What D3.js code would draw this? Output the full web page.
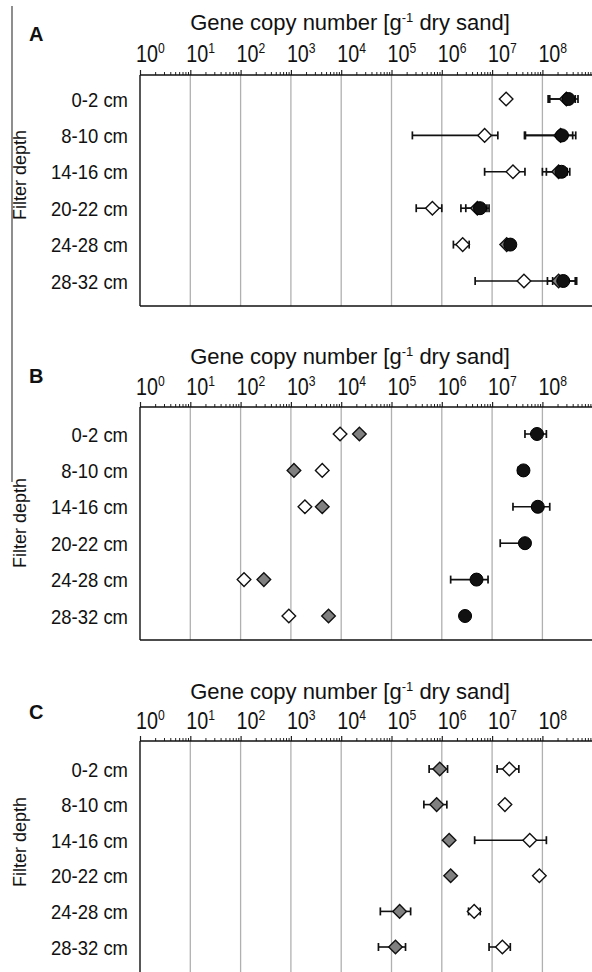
<!DOCTYPE html>
<html>
<head>
<meta charset="utf-8">
<script src="https://cdn.jsdelivr.net/npm/d3@7"></script>
<style>
  html, body { margin: 0; padding: 0; background: #fff; }
  svg { display: block; }
  text { font-family: "Liberation Sans", Arial, Helvetica, sans-serif; fill: #111; }
</style>
</head>
<body>
<svg id="chart" width="592" height="972"></svg>
<script>
// ---------------- DATA ----------------
const depths = ["0-2 cm", "8-10 cm", "14-16 cm", "20-22 cm", "24-28 cm", "28-32 cm"];
const tickExponents = [0, 1, 2, 3, 4, 5, 6, 7, 8];
const axisTitle = "Gene copy number [g";
const axisTitleSup = "-1";
const axisTitleEnd = " dry sand]";
const yTitle = "Filter depth";
const panelLetters = ["A", "B", "C"];

// Panel A
const aWhite   = [1.9e7, 7.1e6, 2.6e7, 6.5e5, 2.6e6, 4.3e7];
const aWhiteLo = [null, 2.6e5, 7.1e6, 3.1e5, 1.7e6, 4.6e6];
const aWhiteHi = [null, 1.3e7, 4.5e7, 1.0e6, 3.5e6, 2.0e8];
const aGray    = [3.0e8, 2.3e8, 2.1e8, 5.1e6, 1.95e7, 2.1e8];
const aGrayLo  = [1.3e8, 4.4e7, 1.0e8, 2.4e6, null, 1.26e8];
const aGrayHi  = [4.5e8, 4.0e8, 3.1e8, 7.9e6, null, 4.5e8];
const aBlack   = [3.3e8, 2.45e8, 2.4e8, 5.75e6, 2.3e7, 2.6e8];
const aBlackLo = [1.4e8, 4.6e7, 1.2e8, 3.0e6, null, 1.6e8];
const aBlackHi = [5.1e8, 4.6e8, 3.5e8, 8.7e6, null, 4.8e8];

// Panel B
const bWhite   = [9.5e3, 4.2e3, 1.9e3, null, 117, 910];
const bGray    = [2.3e4, 1.15e3, 4.2e3, null, 290, 5.6e3];
const bBlack   = [7.8e7, 4.2e7, 8.1e7, 4.5e7, 4.9e6, 2.9e6];
const bBlackLo = [4.5e7, 3.3e7, 2.6e7, 1.45e7, 1.5e6, 2.6e6];
const bBlackHi = [1.2e8, 4.6e7, 1.4e8, 4.5e7, 8.3e6, 3.2e6];

// Panel C
const cGray    = [9.1e5, 7.9e5, 1.4e6, 1.5e6, 1.45e5, 1.2e5];
const cGrayLo  = [5.6e5, 4.4e5, null, null, 6.0e4, 5.5e4];
const cGrayHi  = [1.3e6, 1.26e6, null, null, 2.4e5, 1.9e5];
const cWhite   = [2.2e7, 1.8e7, 5.6e7, 8.7e7, 4.4e6, 1.6e7];
const cWhiteLo = [1.26e7, null, 4.5e6, null, 3.4e6, 8.7e6];
const cWhiteHi = [3.4e7, null, 1.2e8, null, 5.8e6, 2.3e7];

// ---------------- STYLES / LAYOUT ----------------
const WHITE = "#ffffff", GRAY = "#808080", BLACK = "#111111";
const panels = [
  { letter: panelLetters[0], top: 75, bottom: 306, titleY: 30, tickY: 62, letterY: 41, fdY: 175, rowTop: 99, rowStep: 36.4,
    series: [
      { shape: "diamond", fill: WHITE, v: aWhite, lo: aWhiteLo, hi: aWhiteHi },
      { shape: "diamond", fill: GRAY,  v: aGray,  lo: aGrayLo,  hi: aGrayHi },
      { shape: "circle",  fill: BLACK, v: aBlack, lo: aBlackLo, hi: aBlackHi }
    ] },
  { letter: panelLetters[1], top: 407, bottom: 640, titleY: 364, tickY: 395, letterY: 383, fdY: 523, rowTop: 434, rowStep: 36.4,
    series: [
      { shape: "diamond", fill: WHITE, v: bWhite },
      { shape: "diamond", fill: GRAY,  v: bGray },
      { shape: "circle",  fill: BLACK, v: bBlack, lo: bBlackLo, hi: bBlackHi }
    ] },
  { letter: panelLetters[2], top: 741, bottom: 990, titleY: 699, tickY: 729, letterY: 719, fdY: 842, rowTop: 769, rowStep: 35.6,
    series: [
      { shape: "diamond", fill: GRAY,  v: cGray,  lo: cGrayLo,  hi: cGrayHi },
      { shape: "diamond", fill: WHITE, v: cWhite, lo: cWhiteLo, hi: cWhiteHi }
    ] }
];

const svg = d3.select("#chart");
svg.append("rect").attr("width", 592).attr("height", 972).attr("fill", "#fff");

const x = d3.scaleLog().domain([1, 1e9]).range([140, 592.7]);

// left vertical line
svg.append("line").attr("x1", 12).attr("x2", 12).attr("y1", 6).attr("y2", 482)
  .attr("stroke", "#444").attr("stroke-width", 1.2);

function compressedText(parent, px, py, sx, str, opts) {
  const g = parent.append("g").attr("transform", `translate(${px},${py}) scale(${sx},1)`);
  const t = g.append("text").attr("x", 0).attr("y", 0)
    .attr("font-size", opts.size).attr("text-anchor", opts.anchor || "start");
  if (opts.weight) t.attr("font-weight", opts.weight);
  t.text(str);
  return t;
}

const diamondPath = "M0,-6.8L6.8,0L0,6.8L-6.8,0Z";

panels.forEach(p => {
  const g = svg.append("g");
  const y = d3.scalePoint().domain(depths)
    .range([p.rowTop, p.rowTop + p.rowStep * (depths.length - 1)]);

  // title
  const t = g.append("text").attr("x", 350).attr("y", p.titleY)
    .attr("text-anchor", "middle").attr("font-size", 22);
  t.append("tspan").text(axisTitle);
  t.append("tspan").attr("font-size", 13).attr("dy", -8).text(axisTitleSup);
  t.append("tspan").attr("dy", 8).text(axisTitleEnd);

  // letter
  g.append("text").attr("x", 29).attr("y", p.letterY).attr("font-size", 20)
    .attr("font-weight", "bold").text(p.letter);

  // y title
  g.append("text").attr("transform", `translate(26,${p.fdY}) rotate(-90)`)
    .attr("text-anchor", "middle").attr("font-size", 18).text(yTitle);

  // gridlines
  g.selectAll(".grid").data(tickExponents.slice(1)).enter().append("line")
    .attr("x1", d => x(Math.pow(10, d))).attr("x2", d => x(Math.pow(10, d)))
    .attr("y1", p.top).attr("y2", p.bottom)
    .attr("stroke", "#b0b0b0").attr("stroke-width", 1.3);

  // minor ticks via axis
  const minor = [];
  for (let e = 0; e <= 8; e++) for (let m = 2; m <= 9; m++) minor.push(m * Math.pow(10, e));
  const minorAxis = d3.axisTop(x).tickValues(minor).tickSize(3).tickFormat("");
  const ga = g.append("g").attr("transform", `translate(0,${p.top})`).call(minorAxis);
  ga.select(".domain").remove();
  ga.selectAll(".tick line").attr("stroke", "#222").attr("stroke-width", 1);
  const majorAxis = d3.axisTop(x).tickValues(tickExponents.map(e => Math.pow(10, e))).tickSize(5).tickFormat("");
  const gm = g.append("g").attr("transform", `translate(0,${p.top})`).call(majorAxis);
  gm.select(".domain").remove();
  gm.selectAll(".tick line").attr("stroke", "#222").attr("stroke-width", 1.2);

  // box (left, top, bottom)
  g.append("line").attr("x1", 140).attr("x2", 592).attr("y1", p.top).attr("y2", p.top)
    .attr("stroke", "#111").attr("stroke-width", 1.4);
  g.append("line").attr("x1", 140).attr("x2", 592).attr("y1", p.bottom).attr("y2", p.bottom)
    .attr("stroke", "#111").attr("stroke-width", 1.4);
  g.append("line").attr("x1", 140).attr("x2", 140).attr("y1", p.top).attr("y2", p.bottom)
    .attr("stroke", "#111").attr("stroke-width", 1.4);

  // tick labels
  tickExponents.forEach(e => {
    const gx = x(Math.pow(10, e)) - 4;
    const gg = g.append("g").attr("transform", `translate(${gx},${p.tickY}) scale(0.84,1)`);
    const tt = gg.append("text").attr("x", 0).attr("y", 0).attr("font-size", 23.5);
    tt.append("tspan").text("10");
    tt.append("tspan").attr("font-size", 14.5).attr("dy", -9.5).text(String(e));
  });

  // row labels
  depths.forEach(d => {
    compressedText(g, 128, y(d) + 7.5, 0.9, d, { size: 20.5, anchor: "end" });
  });

  // error bars
  p.series.forEach(s => {
    if (!s.lo) return;
    depths.forEach((d, i) => {
      if (s.lo[i] == null || s.v[i] == null) return;
      const x1 = x(s.lo[i]), x2 = x(s.hi[i]), yy = y(d);
      g.append("line").attr("x1", x1).attr("x2", x2).attr("y1", yy).attr("y2", yy)
        .attr("stroke", "#111").attr("stroke-width", 1.6);
      [s.lo[i], s.hi[i]].forEach(val => {
        if (Math.abs(val - s.v[i]) / s.v[i] < 0.02) return;
        g.append("line").attr("x1", x(val)).attr("x2", x(val))
          .attr("y1", yy - 4).attr("y2", yy + 4)
          .attr("stroke", "#111").attr("stroke-width", 1.7);
      });
    });
  });

  // markers
  p.series.forEach(s => {
    depths.forEach((d, i) => {
      if (s.v[i] == null) return;
      if (s.shape === "diamond") {
        g.append("path").attr("d", diamondPath)
          .attr("transform", `translate(${x(s.v[i])},${y(d)})`)
          .attr("fill", s.fill).attr("stroke", "#111").attr("stroke-width", 1.4);
      } else {
        g.append("circle").attr("cx", x(s.v[i])).attr("cy", y(d)).attr("r", 6.5)
          .attr("fill", s.fill).attr("stroke", "#000").attr("stroke-width", 1);
      }
    });
  });
});
</script>
</body>
</html>
